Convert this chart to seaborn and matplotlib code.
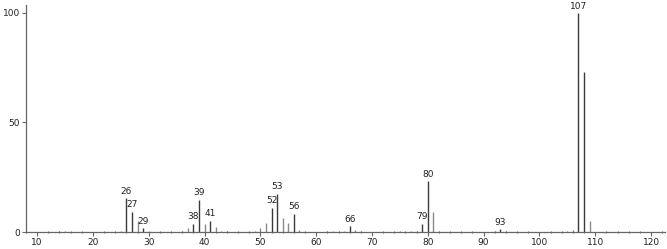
import matplotlib
matplotlib.use("Agg")
import matplotlib.pyplot as plt
import seaborn as sns
import pandas as pd
from matplotlib.ticker import MultipleLocator

mz = [14, 15, 25, 26, 27, 28, 29, 30, 36, 37, 38, 39, 40, 41, 42, 43, 44,
      49, 50, 51, 52, 53, 54, 55, 56, 57, 62, 63, 64, 65, 66, 67, 68,
      75, 77, 78, 79, 80, 81, 82, 92, 93, 94, 105, 106, 107, 108, 109]
intensity = [0.4, 0.6, 0.5, 15.4, 9.3, 4.8, 1.8, 0.5, 0.4, 1.7, 3.8, 14.8, 3.8, 5.2, 2.3, 0.5, 0.4,
             0.5, 1.7, 4.3, 11.1, 17.5, 6.5, 4.0, 8.4, 0.8, 0.4, 0.5, 0.6, 0.6, 2.7, 0.8, 0.5,
             0.4, 0.5, 0.6, 3.8, 23.3, 9.3, 0.6, 0.5, 1.4, 0.5, 0.6, 1.0, 100.0, 73.2, 5.0]
labeled = [26, 27, 29, 38, 39, 41, 52, 53, 56, 66, 79, 80, 93, 107]
xticks = [10, 20, 30, 40, 50, 60, 70, 80, 90, 100, 110, 120]
yticks = [0, 50, 100]

df = pd.DataFrame({"mz": mz, "intensity": intensity})
df["kind"] = ["major" if m in labeled or m == 108 else "minor" for m in mz]

sns.set_style("ticks")
plt.rcParams["font.family"] = ["DejaVu Sans"]

fig = plt.figure(figsize=(6.67, 2.49), dpi=100)
ax = fig.add_axes([26 / 667, 17 / 249, 639 / 667, 227 / 249])

for kind, col in [("minor", "#8a8a8a"), ("major", "#3a3a3a")]:
    sub = df[df["kind"] == kind]
    ax.vlines(sub["mz"], 0, sub["intensity"], colors=col, linewidth=1.0)

for m, v in zip(mz, intensity):
    if m in labeled:
        ax.text(m, v + 1.0, str(m), ha="center", va="bottom",
                fontsize=6.5, color="#222222")

ax.set_xlim(8, 122.5)
ax.set_ylim(0, 103.6)
ax.set_xticks(xticks)
ax.xaxis.set_minor_locator(MultipleLocator(2))
ax.set_yticks(yticks)
ax.tick_params(axis="both", which="major", labelsize=6.5, length=3, width=0.8,
               color="#666666", labelcolor="#222222", pad=1.5)
ax.tick_params(axis="x", which="minor", length=2, width=0.7, color="#666666", direction="inout")
for s in ["top", "right"]:
    ax.spines[s].set_visible(False)
for s in ["left", "bottom"]:
    ax.spines[s].set_color("#666666")
    ax.spines[s].set_linewidth(0.9)

fig.savefig("out.png", dpi=100)
